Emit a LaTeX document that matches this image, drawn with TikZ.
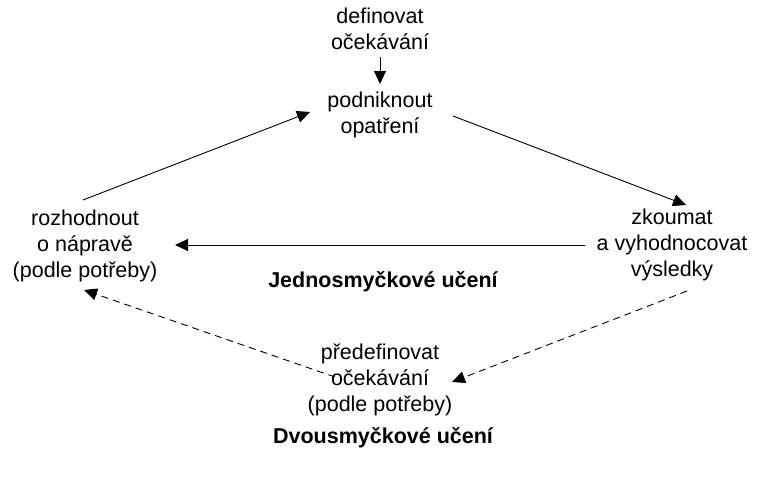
\documentclass[tikz,border=0pt]{standalone}
\usepackage{fontspec}
\setmainfont{Liberation Sans}
\usetikzlibrary{arrows.meta}
\begin{document}
\begin{tikzpicture}[x=1pt,y=-1pt,
  lbl/.style={align=center,inner sep=0pt,font=\fontsize{21.5}{26}\selectfont},
  ttl/.style={inner sep=0pt,font=\fontsize{21.5}{24}\selectfont\bfseries},
  conn/.style={line width=0.9pt,-{Triangle[length=13pt,width=12pt]}},
  loop2/.style={conn,dash pattern=on 7pt off 5pt}]
\useasboundingbox (0,0) rectangle (759,477);
% activities
\node[lbl] (def) at (380,29) {definovat\\očekávání};
\node[lbl] (act) at (380,115) {podniknout\\opatření};
\node[lbl] (dec) at (85,246) {rozhodnout\\o nápravě\\(podle potřeby)};
\node[lbl] (eva) at (672,245) {zkoumat\\a vyhodnocovat\\výsledky};
\node[lbl] (red) at (380,380) {předefinovat\\očekávání\\(podle potřeby)};
% loop titles
\node[ttl] (single) at (383,282) {Jednosmyčkové učení};
\node[ttl] (double) at (383,438) {Dvousmyčkové učení};
% connector end points
\coordinate (defout) at (380,57);
\coordinate (actin) at (380,84);
\coordinate (decout) at (83,200);
\coordinate (actinl) at (310,112);
\coordinate (actout) at (453,116);
\coordinate (evain) at (686,205);
\coordinate (evaout) at (585,245);
\coordinate (decin) at (175,245);
\coordinate (evaout2) at (687,291);
\coordinate (redin) at (452,382);
\coordinate (redout) at (335,377);
\coordinate (decin2) at (84,290);
% single loop
\draw[conn] (defout) -- (actin);
\draw[conn] (decout) -- (actinl);
\draw[conn] (actout) -- (evain);
\draw[conn] (evaout) -- (decin);
% double loop
\draw[loop2] (evaout2) -- (redin);
\draw[loop2] (redout) -- (decin2);
\end{tikzpicture}
\end{document}
